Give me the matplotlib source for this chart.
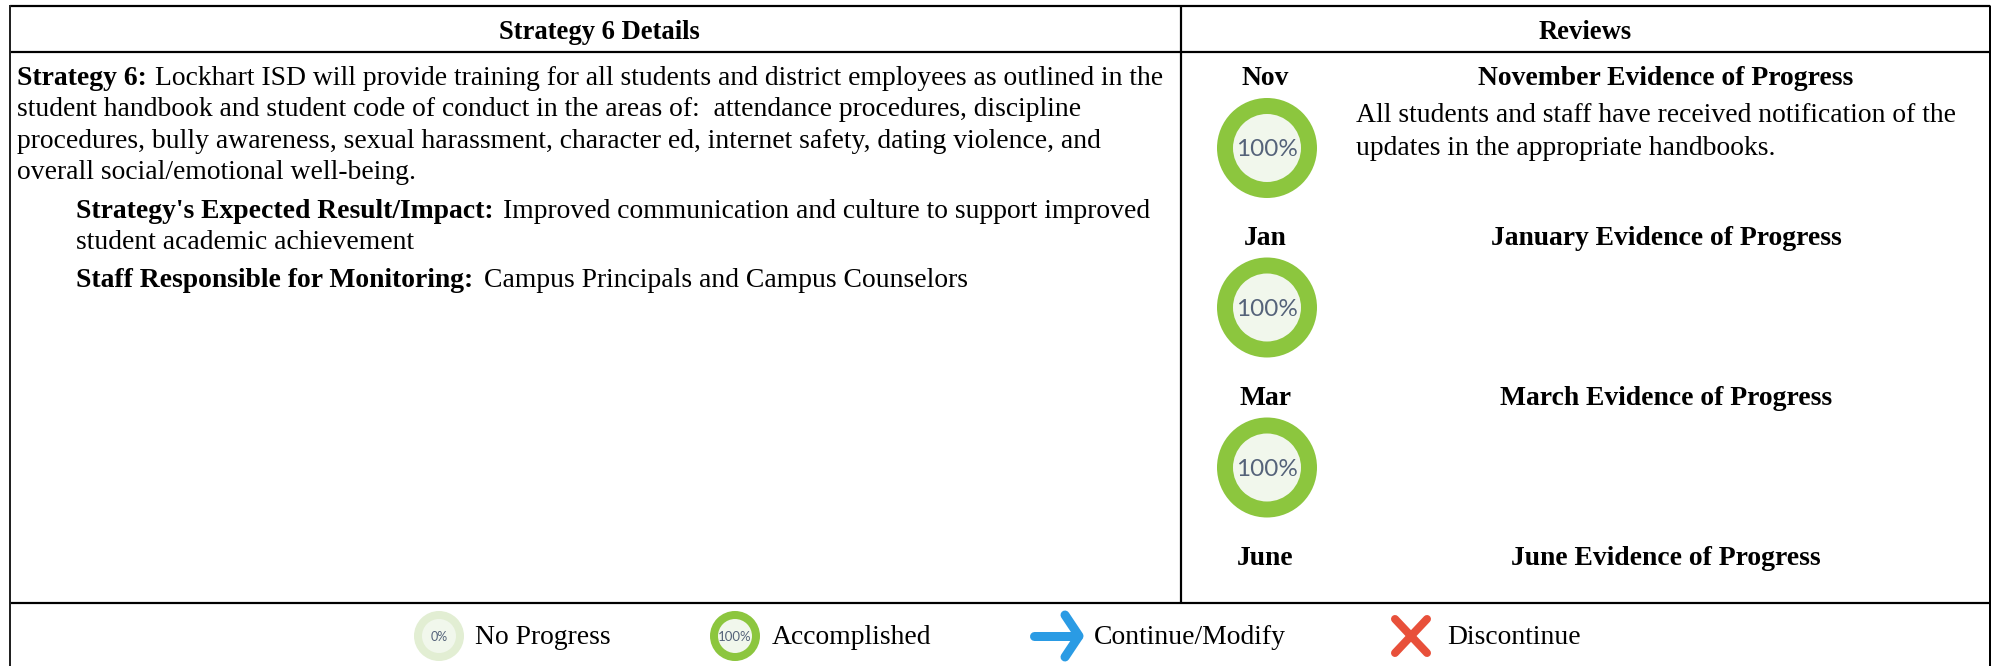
import matplotlib
matplotlib.use("Agg")
import matplotlib.pyplot as plt
from matplotlib.patches import Ellipse

plt.rcParams['font.family'] = ['Liberation Serif', 'DejaVu Serif']

# Contenido de la tabla
headers = ["Strategy 6 Details", "Reviews"]
strategy_label = "Strategy 6:"
strategy_lines = [
    "Lockhart ISD will provide training for all students and district employees as outlined in the",
    "student handbook and student code of conduct in the areas of:  attendance procedures, discipline",
    "procedures, bully awareness, sexual harassment, character ed, internet safety, dating violence, and",
    "overall social/emotional well-being.",
]
impact_label = "Strategy's Expected Result/Impact:"
impact_lines = [
    "Improved communication and culture to support improved",
    "student academic achievement",
]
staff_label = "Staff Responsible for Monitoring:"
staff_text = "Campus Principals and Campus Counselors"

months = ["Nov", "Jan", "Mar", "June"]
evidence_titles = [
    "November Evidence of Progress",
    "January Evidence of Progress",
    "March Evidence of Progress",
    "June Evidence of Progress",
]
month_progress = ["100%", "100%", "100%", None]
evidence_text = [
    "All students and staff have received notification of the",
    "updates in the appropriate handbooks.",
]
legend_labels = ["No Progress", "Accomplished", "Continue/Modify", "Discontinue"]
legend_progress = ["0%", "100%"]

FS = 19.9
W, H = 1991, 666
GREEN = "#8cc63e"
PALE = "#e2eed3"
CENTER = "#f1f7ec"
BLUE = "#2a9be4"
RED = "#e8503a"

fig = plt.figure(figsize=(W / 100, H / 100), dpi=100)
ax = fig.add_axes([0, 0, 1, 1])
ax.set_xlim(0, W)
ax.set_ylim(H, 0)
ax.axis("off")


def px(n):
    # pixeles a puntos
    return n * 72 / 100


def ring(cx, cy, r, color, label, size):
    ax.add_patch(Ellipse((cx, cy), 2 * r, 2 * r, fc=color, ec="none"))
    ax.add_patch(Ellipse((cx, cy), 2 * r * 0.68, 2 * r * 0.68, fc=CENTER, ec="none"))
    ax.text(cx, cy + r * 0.04, label, family="Lato", fontsize=size, color="#55637a",
            ha="center", va="center")


# Bordes
for xs, ys in [([1181, 1181], [6, 603]), ([10, 1990], [6, 6]), ([10, 1990], [52, 52]),
               ([10, 1990], [603, 603])]:
    ax.plot(xs, ys, color="black", lw=px(2.2), solid_capstyle="butt")
ax.plot([9.5, 9.5], [5, H], color="#222222", lw=px(2), solid_capstyle="butt")
ax.plot([1989.5, 1989.5], [5, H], color="black", lw=px(3), solid_capstyle="butt")

# Encabezados
ax.text(599, 39, headers[0], fontsize=19.2, fontweight="bold", ha="center", va="baseline")
ax.text(1585, 39, headers[1], fontsize=19.2, fontweight="bold", ha="center", va="baseline")

# Columna izquierda
ax.text(17, 85, strategy_label, fontsize=FS, fontweight="bold", va="baseline")
ax.text(155, 85, strategy_lines[0], fontsize=FS, va="baseline")
for i, line in enumerate(strategy_lines[1:]):
    ax.text(17, 116 + i * 31.5, line, fontsize=FS, va="baseline")
ax.text(76, 218, impact_label, fontsize=FS, fontweight="bold", va="baseline")
ax.text(503, 218, impact_lines[0], fontsize=FS, va="baseline")
ax.text(76, 249, impact_lines[1], fontsize=FS, va="baseline")
ax.text(76, 287, staff_label, fontsize=FS, fontweight="bold", va="baseline")
ax.text(484, 287, staff_text, fontsize=FS, va="baseline")

# Columna derecha
month_y = [85, 245, 405, 565]
ring_y = [148, 307.5, 467.5, None]
for m, t, p, my, ry in zip(months, evidence_titles, month_progress, month_y, ring_y):
    ax.text(1265, my, m, fontsize=FS, fontweight="bold", ha="center", va="baseline")
    ax.text(1666, my, t, fontsize=FS, fontweight="bold", ha="center", va="baseline")
    if p is not None:
        ring(1267, ry, 50, GREEN, p, 17.5)
ax.text(1356, 122, evidence_text[0], fontsize=FS, va="baseline")
ax.text(1356, 155, evidence_text[1], fontsize=FS, va="baseline")

# Leyenda
ring(439, 636, 25, PALE, legend_progress[0], 9)
ring(735, 636, 25, GREEN, legend_progress[1], 9.5)
ax.plot([1034, 1078], [636, 636], color=BLUE, lw=px(9), solid_capstyle="round")
ax.plot([1065, 1079, 1065], [615, 636, 657], color=BLUE, lw=px(9),
        solid_capstyle="round", solid_joinstyle="round")
ax.plot([1395, 1427], [619, 653], color=RED, lw=px(8), solid_capstyle="round")
ax.plot([1427, 1395], [619, 653], color=RED, lw=px(8), solid_capstyle="round")
for x, label in zip([475, 772, 1094, 1447], legend_labels):
    ax.text(x, 644, label, fontsize=FS, va="baseline")

fig.savefig("out.png", dpi=100, facecolor="white")
